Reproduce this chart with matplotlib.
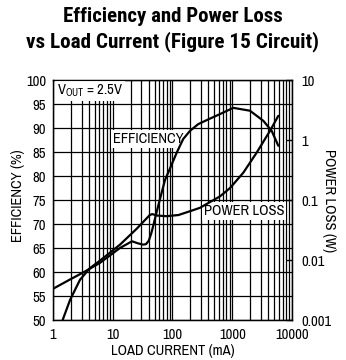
import matplotlib
matplotlib.use("Agg")
import matplotlib.pyplot as plt
from matplotlib.ticker import FixedLocator, NullFormatter

FONT = ["Archivo Narrow", "DejaVu Sans"]
TITLE_FONT = ["Roboto Condensed", "Barlow Condensed", "DejaVu Sans"]
plt.rcParams["font.family"] = FONT
plt.rcParams["mathtext.fontset"] = "custom"
plt.rcParams["mathtext.rm"] = "Archivo Narrow"

# efficiency curve (left axis)
eff_current = [1.0, 1.9, 3.2, 6.1, 13.2, 21, 26, 32, 36, 40, 44, 48, 55, 62, 75, 91,
               118, 151, 196, 269, 398, 624, 1040, 1980, 3310, 4570, 5900]
eff_pct = [56.5, 58.4, 59.9, 61.9, 65.0, 66.4, 66.0, 65.7, 65.8, 66.5, 68.0, 69.8, 72.8,
           75.3, 79.2, 81.6, 84.9, 87.7, 89.4, 90.8, 91.8, 92.9, 94.2, 93.6, 91.5, 89.4, 86.3]

# power loss curve (right axis)
loss_current = [1.45, 1.93, 2.83, 4.16, 6.12, 13.2, 25.1, 41.7, 45.7, 56.2, 79.4, 126,
                196, 288, 624, 916, 1531, 2565, 4285, 5900]
loss_w = [0.001, 0.00216, 0.00468, 0.00733, 0.00977, 0.0180, 0.0331, 0.0562, 0.0582,
          0.0550, 0.0537, 0.0562, 0.0650, 0.0741, 0.115, 0.158, 0.285, 0.617, 1.42, 2.53]

x_ticks = [1, 10, 100, 1000, 10000]
x_labels = ["1", "10", "100", "1000", "10000"]
eff_ticks = list(range(50, 101, 5))
loss_ticks = [0.001, 0.01, 0.1, 1, 10]
loss_labels = ["0.001", "0.01", "0.1", "1", "10"]

W, H = 346, 360
fig = plt.figure(figsize=(W / 100, H / 100), dpi=100)
ax = fig.add_axes([53 / W, 40 / H, 239 / W, 240 / H])

ax.set_xscale("log")
ax.set_xlim(1, 10000)
ax.set_ylim(50, 100)
ax.set_xticks(x_ticks)
ax.set_xticklabels(x_labels)
ax.xaxis.set_minor_locator(FixedLocator([m * d for d in (1, 10, 100, 1000) for m in range(2, 10)]))
ax.xaxis.set_minor_formatter(NullFormatter())
ax.set_yticks(eff_ticks)
ax.grid(True, which="both", axis="x", color="black", lw=0.9)
ax.grid(True, which="major", axis="y", color="black", lw=0.9)
ax.tick_params(which="both", length=0, labelsize=10.5)
ax.tick_params(axis="x", pad=6)
ax.tick_params(axis="y", pad=5)
for s in ax.spines.values():
    s.set_linewidth(1.0)

ax.plot(eff_current, eff_pct, color="black", lw=1.6, zorder=5, solid_capstyle="round")

box = dict(facecolor="white", edgecolor="none", pad=1.5)
ax.text(1.17, 97.8, r"V$_{\mathrm{OUT}}$ = 2.5V", fontsize=10.5, va="center", ha="left",
        bbox=box, zorder=4)
ax.text(39, 87.7, "EFFICIENCY", fontsize=10.5, va="center", ha="center", bbox=box, zorder=4)
ax.text(1570, 72.8, "POWER LOSS", fontsize=10.5, va="center", ha="center", bbox=box, zorder=4)

ax2 = ax.twinx()
ax2.set_yscale("log")
ax2.set_ylim(0.001, 10)
ax2.set_yticks(loss_ticks)
ax2.set_yticklabels(loss_labels)
ax2.yaxis.set_minor_locator(FixedLocator([]))
ax2.tick_params(axis="y", which="major", direction="in", length=4, width=1, labelsize=10.5, pad=7)
ax2.plot(loss_current, loss_w, color="black", lw=1.6, zorder=5, solid_capstyle="round")

# axis titles placed directly in figure pixels
fig.text(173 / W, 1 - 351 / H, "LOAD CURRENT (mA)", fontsize=10.5, ha="center", va="center")
fig.text(18 / W, 1 - 196 / H, "EFFICIENCY (%)", fontsize=10.5, ha="center", va="center",
         rotation=90)
fig.text(329 / W, 1 - 201 / H, "POWER LOSS (W)", fontsize=10.5, ha="center", va="center",
         rotation=-90)

fig.text(0.5, 1 - 17 / H, "Efficiency and Power Loss", ha="center", va="center",
         fontsize=15, fontweight="bold", family=TITLE_FONT)
fig.text(0.5, 1 - 42 / H, "vs Load Current (Figure 15 Circuit)", ha="center", va="center",
         fontsize=15.2, fontweight="bold", family=TITLE_FONT)

fig.savefig("out.png", dpi=100)
